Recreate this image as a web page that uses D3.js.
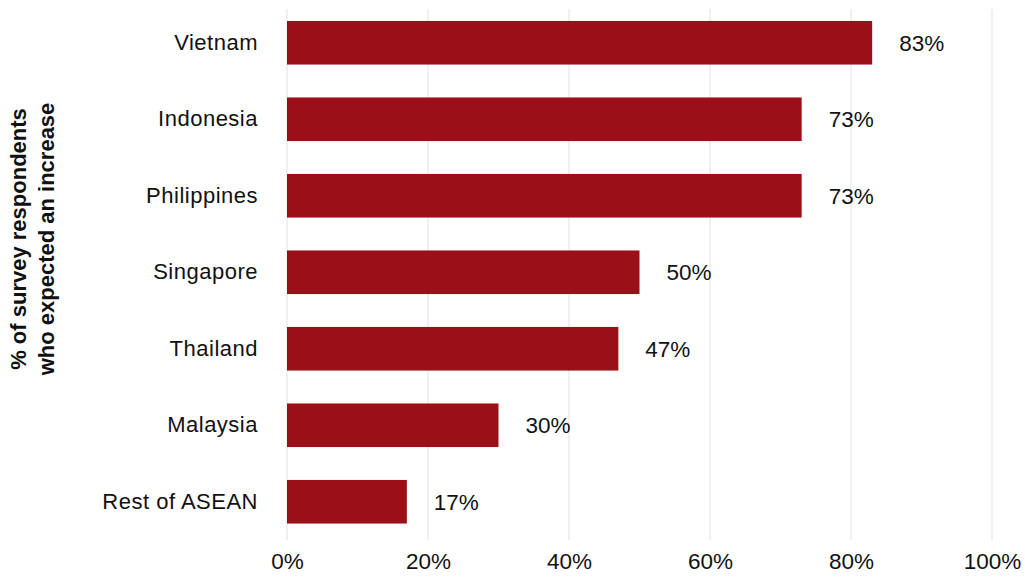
<!DOCTYPE html>
<html>
<head>
<meta charset="utf-8">
<script src="https://cdn.jsdelivr.net/npm/d3@7"></script>
<style>
  html, body { margin: 0; padding: 0; background: #fff; }
  svg { display: block; font-family: "Liberation Sans", Arial, Helvetica, sans-serif; }
</style>
</head>
<body>
<svg id="chart" width="1025" height="577"></svg>
<script>
// Share of survey respondents who expected an increase, by market
const countries = ["Vietnam", "Indonesia", "Philippines", "Singapore", "Thailand", "Malaysia", "Rest of ASEAN"];
const shares = [83, 73, 73, 50, 47, 30, 17];
const xTicks = [0, 20, 40, 60, 80, 100];
const axisTitle = ["% of survey respondents", "who expected an increase"];

const svg = d3.select("#chart");
const barColor = "#9b0f18";
const inkColor = "#111";

const x = d3.scaleLinear().domain([0, 100]).range([287, 992]);
const y = d3.scaleBand()
  .domain(countries)
  .range([4.5, 540])
  .paddingInner(0.43)
  .paddingOuter(0.215);

const gridTop = 9, gridBottom = 540;

// vertical gridlines
svg.append("g")
  .selectAll("line")
  .data(xTicks)
  .join("line")
  .attr("x1", d => x(d)).attr("x2", d => x(d))
  .attr("y1", gridTop).attr("y2", gridBottom)
  .attr("stroke", "#e6e6e6")
  .attr("stroke-width", 1.2);

// bars
const rows = countries.map((c, i) => ({ country: c, value: shares[i] }));
svg.append("g")
  .selectAll("rect")
  .data(rows)
  .join("rect")
  .attr("x", x(0))
  .attr("y", d => y(d.country))
  .attr("width", d => x(d.value) - x(0))
  .attr("height", y.bandwidth())
  .attr("fill", barColor);

// value labels
svg.append("g")
  .selectAll("text")
  .data(rows)
  .join("text")
  .attr("x", d => x(d.value) + 27)
  .attr("y", d => y(d.country) + y.bandwidth() / 2)
  .attr("dy", "0.36em")
  .attr("font-size", 22.5)
  .attr("fill", inkColor)
  .text(d => d.value + "%");

// category axis
const yAxis = svg.append("g")
  .attr("transform", `translate(${x(0)},0)`)
  .call(d3.axisLeft(y).tickSize(0).tickPadding(29));
yAxis.select(".domain").remove();
yAxis.selectAll("text")
  .attr("font-size", 22)
  .attr("letter-spacing", 0.5)
  .attr("font-family", "'Liberation Sans', Arial, sans-serif")
  .attr("fill", inkColor);

// percentage axis
const xAxis = svg.append("g")
  .attr("transform", `translate(0,${gridBottom})`)
  .call(d3.axisBottom(x).tickValues(xTicks).tickFormat(d => d + "%").tickSize(0).tickPadding(13));
xAxis.select(".domain").remove();
xAxis.selectAll("text")
  .attr("font-size", 22.5)
  .attr("font-family", "'Liberation Sans', Arial, sans-serif")
  .attr("fill", inkColor);

// rotated axis title
const title = svg.append("text")
  .attr("transform", "translate(26,239) rotate(-90)")
  .attr("text-anchor", "middle")
  .attr("font-size", 22)
  .attr("font-weight", "bold")
  .attr("fill", inkColor);
title.selectAll("tspan")
  .data(axisTitle)
  .join("tspan")
  .attr("x", 0)
  .attr("dy", (d, i) => i === 0 ? 0 : 28)
  .text(d => d);
</script>
</body>
</html>
